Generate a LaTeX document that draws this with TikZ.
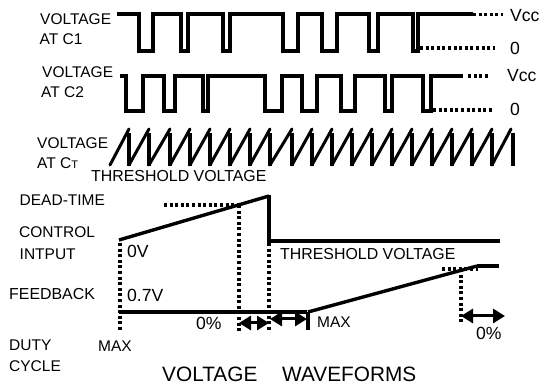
\documentclass[tikz,border=0pt]{standalone}
\usepackage{fontspec}
\setmainfont{Liberation Sans}
\usetikzlibrary{arrows.meta}
\tikzset{
  wave/.style={line width=4pt,line join=miter},
  thin wave/.style={line width=3pt,line cap=round},
  saw edge/.style={line width=4.2pt},
  rail/.style={line width=4pt},
  ramp/.style={line width=3.4pt},
  dots/.style={line width=3.6pt,dash pattern=on 3pt off 2.6pt},
  span/.style={line width=3pt,{Triangle[length=12pt,width=14pt]}-{Triangle[length=12pt,width=14pt]}},
  lbl/.style={inner sep=0pt,anchor=base west,font=\fontsize{15.5}{17}\selectfont},
  wide lbl/.style={inner sep=0pt,anchor=base west,font=\fontsize{15.9}{17}\selectfont},
  value lbl/.style={inner sep=0pt,anchor=base west,font=\fontsize{17.6}{19}\selectfont},
  title/.style={inner sep=0pt,anchor=base west,font=\fontsize{20.8}{23}\selectfont}
}
\begin{document}
\begin{tikzpicture}[x=1pt,y=-1pt]
\useasboundingbox (0,0) rectangle (542,385);
\fill[white] (0,0) rectangle (542,385);
% C1
\draw[wave] (117,14.5) -| (139,51) -| (153,14.5) -| (181,51) -| (188,14.5) -| (223,51) -| (230,14.5) -| (283,51) -| (298,14.5) -| (322,51) -| (337,14.5) -| (369,51) -| (378,14.5) -| (413,51) -| (418,14.5) -- (473,14.5);
\draw[dots] (473,14.5) -- (503,14.5);
\draw[dots] (420,48) -- (495,48);
% C2
\draw[wave] (120,76) -| (126,111) -| (143,76) -| (164,111) -| (175,76) -| (203,111) -| (208,76) -| (265,111) -| (282,76) -| (302,111) -| (317,76) -| (341,111) -| (355,76) -| (385,111) -| (392,76) -| (423,111) -| (431,76) -- (463,76);
\draw[dots] (468,76) -- (490,76);
\draw[dots] (433,110) -- (493,110);
% CT sawtooth
\foreach \a/\b in {110/129,129/149,149/170,170/190,190/210,210/230,230/250,250/270,270/292,292/312,312/332,332/352,352/372,372/392,392/412,412/432,432/452,452/472,472/492,492/511}{
  \draw[thin wave] (\a,165) -- (\b,129);
}
\foreach \a in {129,149,170,190,210,230,250,270,292,312,332,352,372,392,412,432,452,472,492,513}{
  \draw[saw edge] (\a,133) -- (\a,166);
}
% Dead-time ramp
\draw[ramp] (119,240) -- (269,196);
\draw[rail] (269,195) -- (269,241);
\draw[rail] (267,241) -- (500,241);
\draw[dots] (164,205) -- (239,205);
\draw[dots] (120,243) -- (120,331);
\draw[dots] (239,205) -- (239,331);
\draw[dots] (269,243) -- (269,331);
% Feedback
\draw[rail] (119,312) -- (307,312);
\draw[rail] (308,312) -- (308,330);
\draw[ramp] (308,312) -- (477,266);
\draw[rail] (477,266) -- (499,266);
\draw[dots] (442,269) -- (478,269);
\draw[dots] (461,269) -- (461,323);
% Arrows
\draw[span] (239,323) -- (269,323);
\draw[span] (270,319) -- (307,319);
\draw[span] (461,316) -- (505,316);
% Labels
\node[lbl] (a1) at (40,25) {VOLTAGE};
\node[lbl] (a2) at (39.5,45) {AT C1};
\node[lbl] (b1) at (42,77.5) {VOLTAGE};
\node[lbl] (b2) at (41,98) {AT C2};
\node[lbl] (c1) at (37,149) {VOLTAGE};
\node[lbl] (c2) at (37,169) {AT C{\fontsize{11}{12}\selectfont T}};
\node[wide lbl] (th1) at (91,182) {THRESHOLD VOLTAGE};
\node[lbl] (dt) at (19.5,206) {DEAD-TIME};
\node[lbl] (ci1) at (19,238) {CONTROL};
\node[lbl] (ci2) at (19.5,260) {INTPUT};
\node[wide lbl] (fb) at (9,300) {FEEDBACK};
\node[lbl] (du1) at (9,351) {DUTY};
\node[lbl] (du2) at (9,372) {CYCLE};
\node[lbl] (mx1) at (98,352) {MAX};
\node[value lbl] (v0) at (127,258) {0V};
\node[value lbl] (v7) at (127,302) {0.7V};
\node[value lbl] (p1) at (196,330) {0\%};
\node[lbl] (mx2) at (317,328) {MAX};
\node[value lbl] (p2) at (476,340) {0\%};
\node[wide lbl] (th2) at (280,260) {THRESHOLD VOLTAGE};
\node[value lbl] (vc1) at (510,22) {Vcc};
\node[value lbl] (z1) at (510,55) {0};
\node[value lbl] (vc2) at (507,82) {Vcc};
\node[value lbl] (z2) at (510,116) {0};
\node[title] (t1) at (162,382) {VOLTAGE};
\node[title] (t2) at (282,382) {WAVEFORMS};
\end{tikzpicture}
\end{document}
